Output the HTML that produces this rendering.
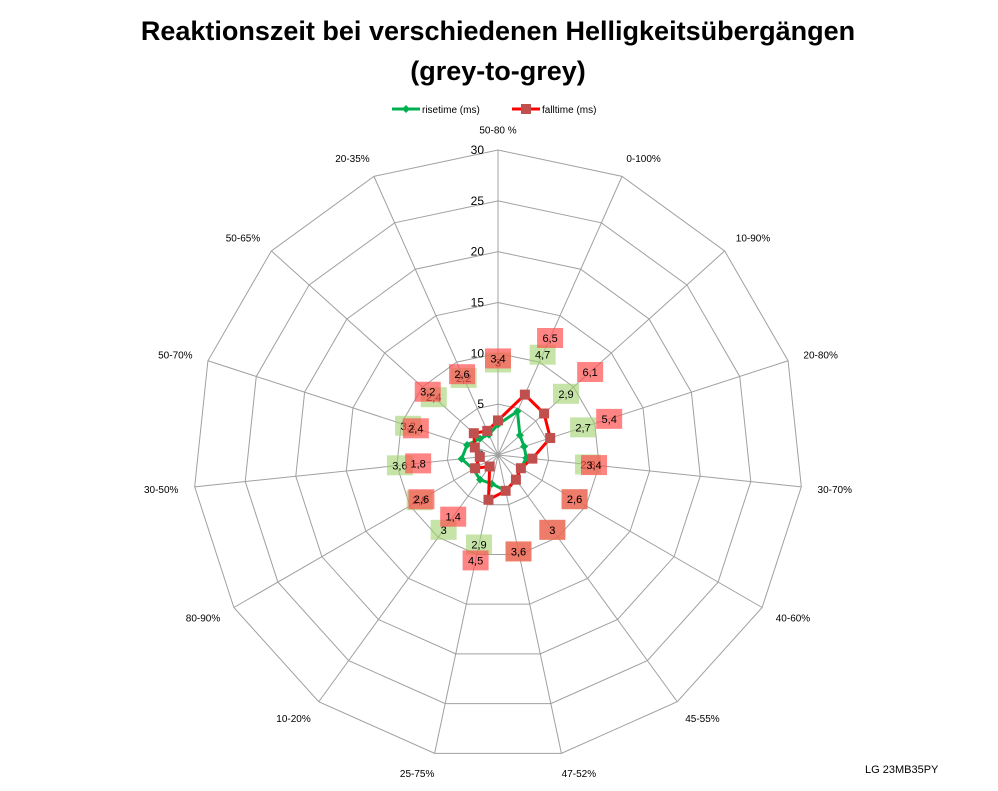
<!DOCTYPE html>
<html><head><meta charset="utf-8"><style>
body{margin:0;background:#fff;font-family:"Liberation Sans",sans-serif}
svg text{font-family:"Liberation Sans",sans-serif}
</style></head><body>
<svg id="c" width="998" height="786" xmlns="http://www.w3.org/2000/svg">
<text x="498" y="40" text-anchor="middle" font-size="27" font-weight="bold">Reaktionszeit bei verschiedenen Helligkeitsübergängen</text>
<text x="498" y="80" text-anchor="middle" font-size="27" font-weight="bold">(grey-to-grey)</text>
<g>
<line x1="392" y1="109" x2="420" y2="109" stroke="#00b050" stroke-width="3"/><path d="M406 105 L410 109 L406 113 L402 109Z" fill="#00b050"/>
<text x="422" y="113" font-size="10">risetime (ms)</text>
<line x1="512" y1="109" x2="540" y2="109" stroke="#ff0000" stroke-width="3"/><rect x="521" y="104" width="10" height="10" fill="#c0504d"/>
<text x="542" y="113" font-size="10">falltime (ms)</text>
</g>
<text x="865" y="773" font-size="11">LG 23MB35PY</text>
<g id="grid"></g><g id="series"></g><g id="labels"></g>
</svg>
<script>
const categories=["50-80 %","0-100%","10-90%","20-80%","30-70%","40-60%","45-55%","47-52%","25-75%","10-20%","80-90%","30-50%","50-70%","50-65%","20-35%"];
const rise=[3,4.7,2.9,2.7,2.8,2.6,3,3.6,2.9,3,2.8,3.6,3.2,2.4,2.2];
const fall=[3.4,6.5,6.1,5.4,3.4,2.6,3,3.6,4.5,1.4,2.6,1.8,2.4,3.2,2.6];
const ticks=[0,5,10,15,20,25,30];
const NS="http://www.w3.org/2000/svg";
const cx=498,cy=455,R=305,maxV=30;
function rad(v){return v/maxV*R;}
function pt(i,v){const a=i*2*Math.PI/categories.length;return [cx+rad(v)*Math.sin(a),cy-rad(v)*Math.cos(a)];}
function mk(t,at,p){const e=document.createElementNS(NS,t);for(const k in at)e.setAttribute(k,at[k]);p.appendChild(e);return e;}
const g=document.getElementById('grid'),s=document.getElementById('series'),L=document.getElementById('labels');
ticks.forEach(t=>{if(t===0)return;const pts=categories.map((c,i)=>pt(i,t).join(',')).join(' ');
const e=mk('polygon',{points:pts,fill:'none',stroke:'#a0a0a0','stroke-width':1},g);

});
categories.forEach((c,i)=>{const p=pt(i,maxV);const e=mk('line',{x1:cx,y1:cy,x2:p[0],y2:p[1],stroke:'#a0a0a0'},g);


const q=pt(i,maxV+2);const a=i*2*Math.PI/categories.length;const sn=Math.sin(a);
const t=mk('text',{x:q[0]+(sn>0.2?-4:sn<-0.2?4:0),y:q[1]+4,'font-size':10,'text-anchor':sn>0.2?'start':sn<-0.2?'end':'middle'},g);t.textContent=c;

});
ticks.forEach(t=>{const e=mk('text',{x:cx-14,y:cy-rad(t)+4,'font-size':12,'text-anchor':'end'},g);e.textContent=t;

});
function series(vals,col,name,mcol,sq){
const pts=vals.map((v,i)=>pt(i,v).join(',')).join(' ');
const e=mk('polygon',{points:pts,fill:'none',stroke:col,'stroke-width':3},s);


vals.forEach((v,i)=>{const p=pt(i,v);let m;
if(sq)m=mk('rect',{x:p[0]-5,y:p[1]-5,width:10,height:10,fill:mcol},s);
else m=mk('path',{d:`M${p[0]} ${p[1]-4}L${p[0]+4} ${p[1]}L${p[0]} ${p[1]+4}L${p[0]-4} ${p[1]}Z`,fill:mcol},s);


const a=i*2*Math.PI/categories.length;const r=rad(v)+62;
const lx=cx+r*Math.sin(a),ly=cy-r*Math.cos(a);
const b=mk('rect',{x:lx-13,y:ly-10,width:26,height:20,fill:sq?'rgba(255,80,80,0.7)':'rgba(160,210,110,0.6)'},L);


const t=mk('text',{x:lx,y:ly+4,'font-size':11,'text-anchor':'middle'},L);t.textContent=String(v).replace('.',',');

});}
series(rise,'#00b050','risetime','#00b050',false);
series(fall,'#ff0000','falltime','#c0504d',true);
</script>
</body></html>
